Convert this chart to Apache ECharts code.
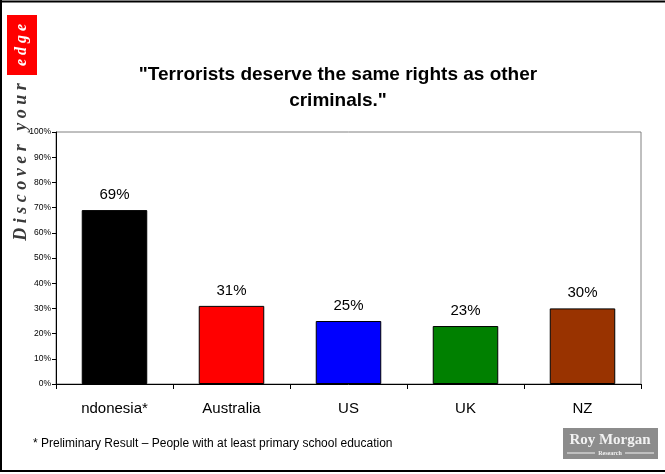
<!DOCTYPE html>
<html><head><meta charset="utf-8">
<script src="https://cdn.jsdelivr.net/npm/echarts@6/dist/echarts.min.js"></script>
<style>html,body{margin:0;padding:0;background:#fff}#c{width:665px;height:474px}</style>
</head><body><div id="c"></div>
<script>
const categories = ["ndonesia*", "Australia", "US", "UK", "NZ"];
const values = [69, 31, 25, 23, 30];
const barColors = ["#000000", "#FF0000", "#0000FF", "#008000", "#993300"];
const yTicks = [0, 10, 20, 30, 40, 50, 60, 70, 80, 90, 100];

const chart = echarts.init(document.getElementById('c'), null, {renderer: 'canvas'});
const F = 'Arial, "Liberation Sans", sans-serif';
chart.setOption({
  animation: false,
  backgroundColor: '#fff',
  title: {
    text: '"Terrorists deserve the same rights as other\ncriminals."',
    left: 333, top: 57, textAlign: 'center',
    textStyle: {fontFamily: F, fontSize: 19, fontWeight: 'bold', color: '#000', lineHeight: 26}
  },
  grid: {left: 56, right: 24, top: 132, bottom: 90, show: true, borderColor: '#808080', borderWidth: 1, backgroundColor: 'transparent'},
  xAxis: {
    type: 'category', data: categories,
    axisLine: {lineStyle: {color: '#000', width: 1}},
    axisTick: {show: true, inside: false, length: 5, lineStyle: {color: '#000'}},
    axisLabel: {fontFamily: F, fontSize: 15, color: '#000', margin: 17}
  },
  yAxis: {
    type: 'value', min: yTicks[0], max: yTicks[yTicks.length - 1], interval: 10,
    axisLine: {show: true, lineStyle: {color: '#000', width: 1}},
    axisTick: {show: true, length: 4, lineStyle: {color: '#000'}},
    splitLine: {show: false},
    axisLabel: {fontFamily: F, fontSize: 8.5, color: '#000', margin: 5, formatter: '{value}%'}
  },
  series: [{
    type: 'bar',
    barWidth: '56%',
    data: values.map((v, i) => ({value: v, itemStyle: {color: barColors[i]}})),
    itemStyle: {borderColor: '#000', borderWidth: 1},
    label: {show: true, position: 'top', distance: 8, fontFamily: F, fontSize: 15, color: '#000', formatter: '{c}%'}
  }],
  graphic: [
    {type: 'line', shape: {x1: 1, y1: 0, x2: 1, y2: 472}, style: {stroke: '#000', lineWidth: 2}, silent: true},
    {type: 'line', shape: {x1: 0, y1: 1.5, x2: 665, y2: 1.5}, style: {stroke: '#000', lineWidth: 2}, silent: true},
    {type: 'line', shape: {x1: 0, y1: 471, x2: 665, y2: 471}, style: {stroke: '#000', lineWidth: 2}, silent: true},
    {type: 'rect', shape: {x: 7, y: 15, width: 30, height: 60}, style: {fill: '#FF0000'}},
    {type: 'text', x: 22, y: 45, rotation: Math.PI / 2,
      style: {text: 'e d g e', fill: '#fff', font: 'italic bold 16px "Liberation Serif", "DejaVu Serif", serif', align: 'center', verticalAlign: 'middle'}},
    {type: 'text', x: 21, y: 162, rotation: Math.PI / 2,
      style: {text: 'D i s c o v e r   y o u r', fill: '#3a3a3a', font: 'italic bold 18px "Liberation Serif", "DejaVu Serif", serif', align: 'center', verticalAlign: 'middle'}},
    {type: 'text', x: 33, y: 444,
      style: {text: '* Preliminary Result \u2013 People with at least primary school education', fill: '#000', font: '12px Arial, "Liberation Sans", sans-serif', verticalAlign: 'middle'}},
    {type: 'rect', shape: {x: 563, y: 428, width: 95, height: 31}, style: {fill: '#8c8c8c'}},
    {type: 'text', x: 610, y: 440,
      style: {text: 'Roy Morgan', fill: '#f2f2f2', font: 'bold 15px "Liberation Serif", "DejaVu Serif", serif', align: 'center', verticalAlign: 'middle'}},
    {type: 'text', x: 610, y: 453,
      style: {text: 'Research', fill: '#f2f2f2', font: 'bold 6px "Liberation Serif", serif', align: 'center', verticalAlign: 'middle'}},
    {type: 'line', shape: {x1: 567, y1: 453, x2: 595, y2: 453}, style: {stroke: '#f2f2f2', lineWidth: 1}},
    {type: 'line', shape: {x1: 625, y1: 453, x2: 654, y2: 453}, style: {stroke: '#f2f2f2', lineWidth: 1}}
  ]
});
</script></body></html>
